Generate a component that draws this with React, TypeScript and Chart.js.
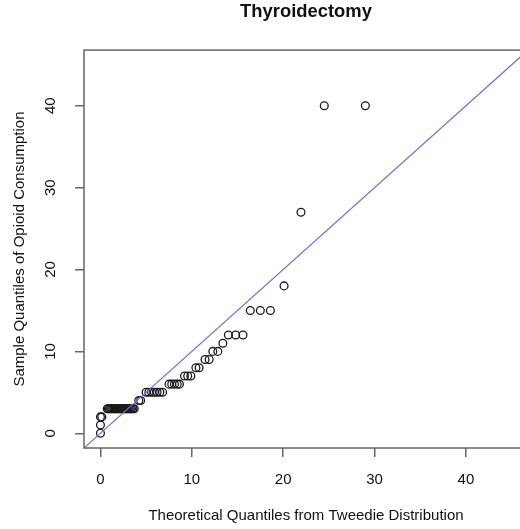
import { useEffect, useRef } from "react";
import { Chart, registerables } from "chart.js";

Chart.register(...registerables);

const chartTitle = "Thyroidectomy";
const xAxisTitle = "Theoretical Quantiles from Tweedie Distribution";
const yAxisTitle = "Sample Quantiles of Opioid Consumption";

const xTicks = [0, 10, 20, 30, 40];
const yTicks = [0, 10, 20, 30, 40];
const xRange = [-1.8, 46.8];
const yRange = [-1.8, 46.8];

// theoretical (Tweedie) quantiles
const theoreticalQuantiles = [
  0, 0, 0, 0.15,
  0.75, 0.87, 0.99, 1.11, 1.23, 1.35, 1.47, 1.59, 1.71, 1.83, 1.95, 2.07, 2.19, 2.31, 2.43, 2.55, 2.67, 2.79, 2.91, 3.03, 3.15, 3.27, 3.4, 3.55, 3.7,
  4.2, 4.4,
  5.0, 5.3, 5.6, 5.9, 6.2, 6.5, 6.8,
  7.5, 7.8, 8.1, 8.4, 8.65,
  9.2, 9.55, 9.9,
  10.45, 10.8,
  11.45, 11.9,
  12.3, 12.85,
  13.4,
  14.0, 14.8, 15.6,
  16.4, 17.5, 18.6,
  20.1,
  21.95,
  24.5, 29.0,
];

// sample quantiles of opioid consumption
const sampleQuantiles = [
  0, 1, 2, 2,
  3, 3, 3, 3, 3, 3, 3, 3, 3, 3, 3, 3, 3, 3, 3, 3, 3, 3, 3, 3, 3, 3, 3, 3, 3,
  4, 4,
  5, 5, 5, 5, 5, 5, 5,
  6, 6, 6, 6, 6,
  7, 7, 7,
  8, 8,
  9, 9,
  10, 10,
  11,
  12, 12, 12,
  15, 15, 15,
  18,
  27,
  40, 40,
];

// reference line y = intercept + slope * x
const refIntercept = 0;
const refSlope = 1;
const refLineX = [-5, 60];

const FONT = "'Liberation Sans', Arial, Helvetica, sans-serif";

export default function App() {
  const canvasRef = useRef<HTMLCanvasElement | null>(null);

  useEffect(() => {
    const canvas = canvasRef.current;
    if (!canvas) return;

    const boxPlugin = {
      id: "rbox",
      afterDraw(chart: any) {
        const { ctx, chartArea } = chart;
        ctx.save();
        ctx.strokeStyle = "#666";
        ctx.lineWidth = 1.5;
        ctx.strokeRect(chartArea.left, chartArea.top, chartArea.right - chartArea.left, chartArea.bottom - chartArea.top);
        ctx.restore();
      },
    };

    const chart = new Chart(canvas, {
      type: "scatter",
      data: {
        datasets: [
          {
            type: "line",
            label: "reference",
            data: refLineX.map((x) => ({ x, y: refIntercept + refSlope * x })),
            borderColor: "#7070dc",
            borderWidth: 1.2,
            pointRadius: 0,
            fill: false,
            order: 0,
          } as any,
          {
            label: "qq",
            data: theoreticalQuantiles.map((x, i) => ({ x, y: sampleQuantiles[i] })),
            pointStyle: "circle",
            pointRadius: 3.9,
            pointBorderWidth: 1.3,
            borderColor: "#1a1a1a",
            backgroundColor: "rgba(0,0,0,0)",
            pointBackgroundColor: "rgba(0,0,0,0)",
            order: 1,
          },
        ],
      },
      options: {
        animation: false,
        responsive: false,
        devicePixelRatio: 1,
        layout: { padding: { left: 0, right: 32, top: 0, bottom: 0 } },
        plugins: {
          legend: { display: false },
          tooltip: { enabled: false },
          title: {
            display: true,
            text: chartTitle,
            fullSize: false,
            color: "#111",
            font: { family: FONT, size: 18.4, weight: "bold" },
            padding: { top: 1, bottom: 27 },
          },
        },
        scales: {
          x: {
            type: "linear",
            min: xRange[0],
            max: xRange[1],
            afterBuildTicks: (scale: any) => {
              scale.ticks = xTicks.map((v) => ({ value: v }));
            },
            afterFit: (scale: any) => {
              scale.height = 81;
            },
            border: { display: false },
            grid: { drawOnChartArea: false, drawTicks: true, tickLength: 9, color: "#666", lineWidth: 1.5 },
            ticks: {
              autoSkip: false,
              maxRotation: 0,
              padding: 14,
              color: "#111",
              font: { family: FONT, size: 15 },
            },
            title: {
              display: true,
              text: xAxisTitle,
              color: "#111",
              font: { family: FONT, size: 15 },
              padding: { top: 0, bottom: 4.2 },
            },
          },
          y: {
            type: "linear",
            min: yRange[0],
            max: yRange[1],
            afterBuildTicks: (scale: any) => {
              scale.ticks = yTicks.map((v) => ({ value: v }));
            },
            afterFit: (scale: any) => {
              scale.width = 84;
            },
            border: { display: false },
            grid: { drawOnChartArea: false, drawTicks: true, tickLength: 9, color: "#666", lineWidth: 1.5 },
            ticks: {
              autoSkip: false,
              minRotation: 90,
              maxRotation: 90,
              crossAlign: "center",
              padding: 16,
              color: "#111",
              font: { family: FONT, size: 15 },
            },
            title: {
              display: true,
              text: yAxisTitle,
              color: "#111",
              font: { family: FONT, size: 15 },
              padding: { top: 10.5, bottom: 0 },
            },
          },
        },
      },
      plugins: [boxPlugin],
    } as any);

    return () => chart.destroy();
  }, []);

  return (
    <div style={{ position: "fixed", left: 0, top: 0, width: 520, height: 529, overflow: "hidden", background: "#fff" }}>
      <canvas ref={canvasRef} width={560} height={529} style={{ display: "block" }} />
    </div>
  );
}
